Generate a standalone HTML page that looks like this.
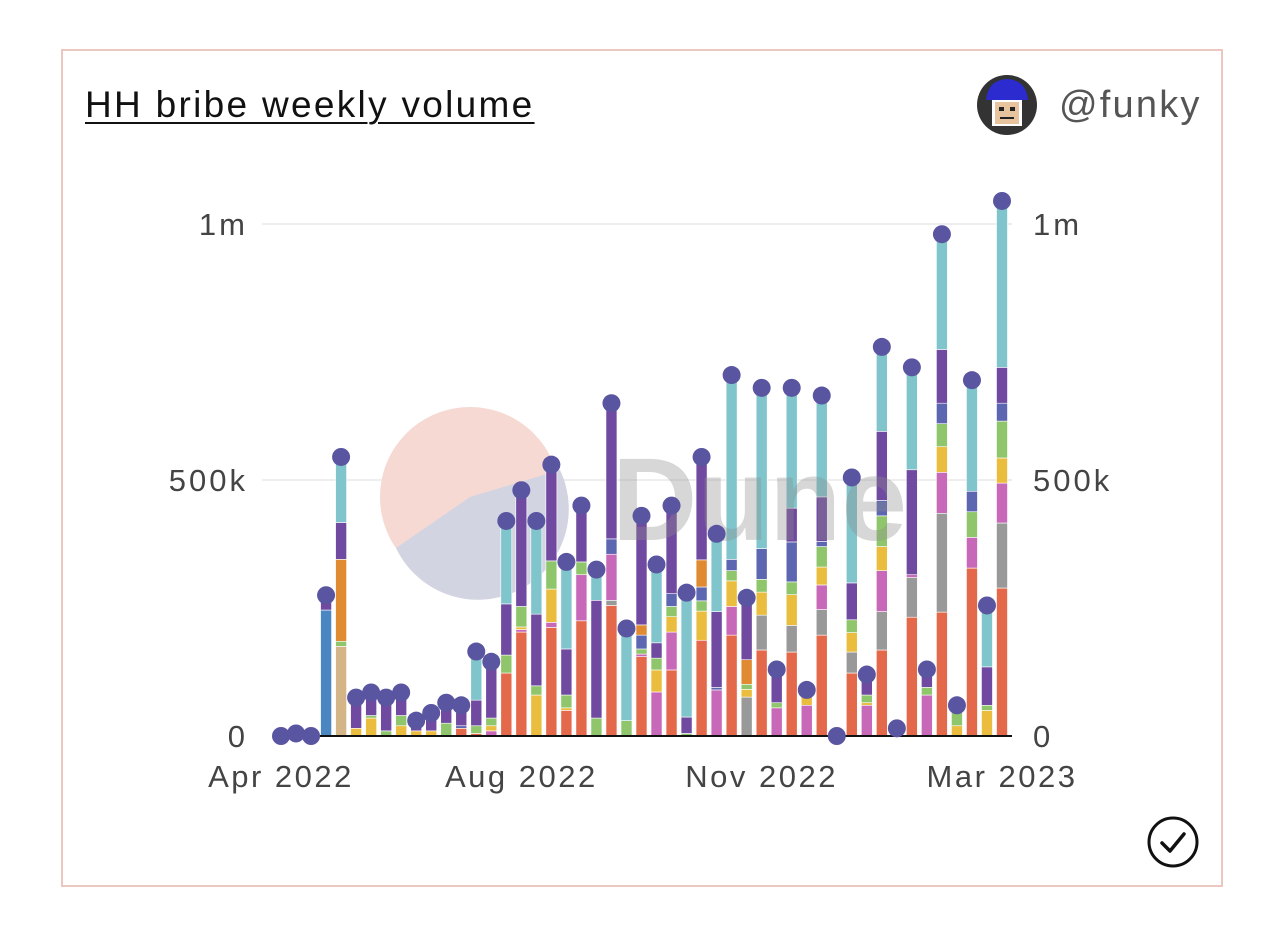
<!DOCTYPE html>
<html><head><meta charset="utf-8">
<style>
html,body{margin:0;padding:0;background:#fff;width:1284px;height:945px;overflow:hidden;font-family:"Liberation Sans",sans-serif;}
#card{position:absolute;left:61px;top:49px;width:1158px;height:834px;border:2px solid #ebc7c0;}
#title{position:absolute;left:85px;top:84px;font-size:37px;color:#111;letter-spacing:2.3px;text-decoration:underline;text-decoration-thickness:2px;text-underline-offset:5px;}
#user{position:absolute;left:1059px;top:84px;font-size:38px;color:#555;letter-spacing:2.2px;}
</style></head><body>
<div id="card"></div>
<div id="title">HH bribe weekly volume</div>
<svg style="position:absolute;left:976px;top:74px" width="62" height="62">
<circle cx="31" cy="31" r="30" fill="#333"/>
<path d="M10 26 Q12 6 31 5 Q50 6 52 26 Z" fill="#2b2bd0"/>
<rect x="16" y="26" width="30" height="26" fill="#fff"/>
<rect x="19" y="28" width="24" height="22" fill="#e7c49e"/>
<rect x="23" y="33" width="5" height="4" fill="#222"/><rect x="34" y="33" width="5" height="4" fill="#222"/>
<rect x="24" y="43" width="14" height="2" fill="#222"/>
</svg>
<div id="user">@funky</div>
<svg id="chart" style="position:absolute;left:0;top:0" width="1284" height="945"></svg>
<svg style="position:absolute;left:1146px;top:816px" width="54" height="54">
<circle cx="27" cy="26" r="24" fill="none" stroke="#111" stroke-width="3"/>
<path d="M16 27 L24 35 L38 18" fill="none" stroke="#111" stroke-width="3.5" stroke-linecap="round" stroke-linejoin="round"/>
</svg>
<script>
const xLabels=["Apr 2022","Aug 2022","Nov 2022","Mar 2023"];
const xLabelIdx=[0,16,32,48];
const yTicks=[0,500,1000];
const yTickLabels=["0","500k","1m"];
const steel=[0,0,0,246,0,0,0,0,0,0,0,0,0,0,0,0,0,0,0,0,0,0,0,0,0,0,0,0,0,0,0,0,0,0,0,0,0,0,0,0,0,0,0,0,0,0,0,0,0];
const tan=[0,0,0,0,175,0,0,0,0,0,0,0,0,0,0,0,0,0,0,0,0,0,0,0,0,0,0,0,0,0,0,0,0,0,0,0,0,0,0,0,0,0,0,0,0,0,0,0,0];
const red=[0,0,0,0,0,0,0,0,0,0,0,0,15,5,0,123,203,0,212,50,225,0,255,0,155,0,129,0,187,0,197,0,168,0,164,0,197,0,123,0,168,0,232,0,242,0,328,0,289];
const gray=[0,0,0,0,0,0,0,0,0,0,0,0,0,0,0,0,0,0,0,0,0,0,10,0,0,0,0,0,0,0,0,76,68,0,52,0,50,0,41,0,75,0,78,0,193,0,0,0,127];
const pink=[0,0,0,0,0,0,0,0,0,0,0,0,0,0,10,0,5,0,10,0,90,0,90,0,5,86,74,0,0,90,56,0,0,55,0,60,48,0,0,60,80,0,5,80,80,0,60,0,78];
const yellow=[0,0,0,0,0,15,35,0,20,10,10,0,0,0,10,0,5,80,65,5,0,0,0,0,0,43,30,0,57,0,50,15,45,0,60,20,35,0,38,5,47,0,0,0,50,20,0,50,49];
const green=[0,5,0,0,10,0,5,10,20,0,0,25,0,15,15,35,40,18,55,25,25,35,0,30,10,23,20,5,20,0,20,10,25,10,25,0,40,0,25,15,60,15,0,15,45,40,50,10,72];
const slate=[0,0,0,0,0,0,0,0,0,0,0,0,5,0,0,0,0,0,0,0,0,0,30,0,27,0,25,0,27,5,22,0,60,0,78,0,10,0,0,0,30,0,0,0,40,0,40,0,35];
const orange=[0,0,0,0,160,0,0,0,0,0,0,0,0,0,0,0,0,0,0,0,0,0,0,0,20,0,0,0,53,0,0,48,0,0,0,0,0,0,0,0,0,0,0,0,0,0,0,0,0];
const purple=[0,0,0,29,72,60,45,65,45,20,35,40,40,50,110,100,227,140,188,90,110,230,265,0,213,30,172,32,201,148,0,121,0,65,66,10,87,0,72,40,135,0,205,35,105,0,0,75,70];
const cyan=[0,0,0,0,128,0,0,0,0,0,0,0,0,95,0,162,0,182,0,170,0,60,0,180,0,153,0,243,0,152,360,0,314,0,235,0,198,0,206,0,165,0,200,0,225,0,217,120,325];
const seriesList=[["steel",steel,"#4a87c2"],["tan",tan,"#d4b588"],["red",red,"#e4694a"],["gray",gray,"#999999"],["pink",pink,"#c768b8"],["yellow",yellow,"#ebbd3e"],["green",green,"#8fc66c"],["slate",slate,"#5d66b0"],["orange",orange,"#e08a32"],["purple",purple,"#7049a0"],["cyan",cyan,"#80c5cc"]];
const NS="http://www.w3.org/2000/svg";
const svg=document.getElementById('chart');
const n=red.length;
const x0=281,x1=1002,y0=736,yTop=224;
function xs(i){return x0+(x1-x0)*i/(n-1);}
function ys(v){return y0-(y0-yTop)*v/1000;}
function mk(t,a){const e=document.createElementNS(NS,t);for(const k in a)e.setAttribute(k,a[k]);svg.appendChild(e);return e;}
yTicks.forEach((t,i)=>{
  if(t>0){const g=mk('line',{x1:262,x2:1012,y1:ys(t),y2:ys(t),stroke:'#eeeeee','stroke-width':2});
  
  }
  const l=mk('text',{x:248,y:ys(t)+11,'text-anchor':'end','font-size':31,fill:'#444','letter-spacing':3});l.textContent=yTickLabels[i];
  
  
  const r=mk('text',{x:1033,y:ys(t)+11,'text-anchor':'start','font-size':31,fill:'#444','letter-spacing':3});r.textContent=yTickLabels[i];
  
  
});
const wm=document.createElementNS(NS,'g');svg.appendChild(wm);


wm.innerHTML='<circle cx="470" cy="497" r="90" fill="#f5d9d2"/><path d="M470 497 L560 470 A90 90 0 0 1 396 548 Z" fill="#d3d4e2"/>';
const bw=11;
const totals=[];
for(let i=0;i<n;i++){
  let acc=0;
  seriesList.forEach(([nm,arr,col])=>{
    const v=arr[i];if(v<=0)return;
    const r=mk('rect',{x:xs(i)-bw/2,y:ys(acc+v),width:bw,height:ys(acc)-ys(acc+v),fill:col,stroke:'#fff','stroke-width':0.6});
    
    
    acc+=v;
  });
  totals.push(acc);
}
const base=mk('line',{x1:320,x2:1012,y1:y0,y2:y0,stroke:'#111','stroke-width':2});


const dune=mk('text',{x:612,y:540,'font-size':118,fill:'rgba(140,140,140,0.35)','font-weight':'bold'});dune.textContent='Dune';


totals.forEach((t,i)=>{
  const c=mk('circle',{cx:xs(i),cy:ys(t),r:9,fill:'#5a55a0'});
  
  
});
xLabels.forEach((s,k)=>{
  const t=mk('text',{x:xs(xLabelIdx[k]),y:787,'text-anchor':'middle','font-size':31,fill:'#444','letter-spacing':2.5});t.textContent=s;
  
  
});
</script>
</body></html>
